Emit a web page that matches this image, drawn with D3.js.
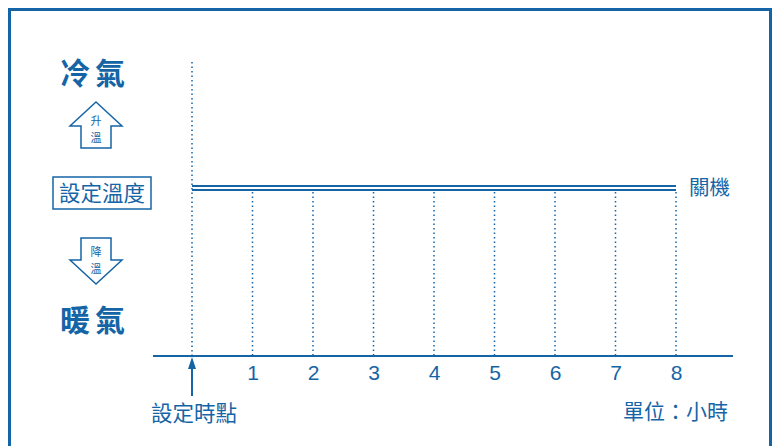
<!DOCTYPE html>
<html>
<head>
<meta charset="utf-8">
<style>
  body { margin: 0; background: #fff; }
  svg text { font-family: "Noto Sans CJK TC", "Noto Sans", sans-serif; fill: #1565a6; }
</style>
<script src="https://d3js.org/d3.v7.min.js"></script>
</head>
<body>
<svg id="chart" width="773" height="446"></svg>
<script>
// hours after the set time
var hours = [0, 1, 2, 3, 4, 5, 6, 7, 8];
var tickLabels = ["", "1", "2", "3", "4", "5", "6", "7", "8"];
// the timer keeps the set temperature, then switches off
var offLevel = [0, 0, 0, 0, 0, 0, 0, 0, 0];
var offLabel = "關機";

var blue = "#1565a6";
var svg = d3.select("#chart");

// frame
svg.append("path")
  .attr("d", "M9.5,446 V9.5 H770.5 V446")
  .attr("fill", "none").attr("stroke", blue).attr("stroke-width", 3);

var x = d3.scaleLinear().domain([0, 8]).range([192, 676]);
var y = d3.scaleLinear().domain([-1, 1]).range([356, 20]);

// axis line
svg.append("line")
  .attr("x1", 153).attr("x2", 733).attr("y1", 356).attr("y2", 356)
  .attr("stroke", blue).attr("stroke-width", 2);

var axis = d3.axisBottom(x).tickValues(hours).tickFormat((d, i) => tickLabels[i]).tickSize(0).tickPadding(9);
var ax = svg.append("g").attr("transform", "translate(0,356)").call(axis);
ax.select(".domain").remove();
ax.selectAll("text")
  .style("font-family", "Liberation Sans, Arial, sans-serif")
  .style("font-size", "21px").attr("fill", blue);

// dotted verticals
svg.append("g").selectAll("line").data(hours).join("line")
  .attr("x1", d => x(d)).attr("x2", d => x(d))
  .attr("y1", d => d === 0 ? 62 : y(offLevel[d]) + 4)
  .attr("y2", 355)
  .attr("stroke", blue).attr("stroke-width", 1.5)
  .attr("stroke-dasharray", "1.5,3");

// double line at set temperature
var line = d3.line().x((d, i) => x(hours[i])).y(d => y(d));
[-2, 2].forEach(function (off) {
  svg.append("path")
    .datum(offLevel)
    .attr("d", line)
    .attr("transform", "translate(0," + off + ")")
    .attr("fill", "none").attr("stroke", blue).attr("stroke-width", 2);
});
svg.append("text").attr("x", 689).attr("y", y(0) + 7)
  .style("font-size", "20.5px").text(offLabel);

// set time arrow
svg.append("line").attr("x1", x(0)).attr("x2", x(0)).attr("y1", 396).attr("y2", 366)
  .attr("stroke", blue).attr("stroke-width", 2);
svg.append("path")
  .attr("d", `M${x(0)},357 L${x(0) - 4},369 L${x(0) + 4},369 Z`).attr("fill", blue);
svg.append("text").attr("x", 151).attr("y", 421)
  .style("font-size", "21.5px").text("設定時點");
svg.append("text").attr("x", 728).attr("y", 419).attr("text-anchor", "end")
  .style("font-size", "21px").text("單位：小時");

// left legend
svg.append("text").attr("x", 95).attr("y", 84).attr("text-anchor", "middle")
  .style("font-size", "30px").style("font-weight", "bold").style("letter-spacing", "5px").text("冷氣");
svg.append("text").attr("x", 95).attr("y", 331).attr("text-anchor", "middle")
  .style("font-size", "30px").style("font-weight", "bold").style("letter-spacing", "5px").text("暖氣");

svg.append("path")
  .attr("d", "M96,102 L122,126 L111,126 L111,148 L81,148 L81,126 L70,126 Z")
  .attr("fill", "#fff").attr("stroke", blue).attr("stroke-width", 1.5);
svg.append("path")
  .attr("d", "M81,238 L111,238 L111,260 L122,260 L96,284 L70,260 L81,260 Z")
  .attr("fill", "#fff").attr("stroke", blue).attr("stroke-width", 1.5);
[["升", 125], ["溫", 142], ["降", 256], ["溫", 273]].forEach(function (t) {
  svg.append("text").attr("x", 96).attr("y", t[1]).attr("text-anchor", "middle")
    .style("font-size", "11px").text(t[0]);
});

svg.append("rect").attr("x", 53).attr("y", 177).attr("width", 98).attr("height", 32)
  .attr("fill", "none").attr("stroke", blue).attr("stroke-width", 1.5);
svg.append("text").attr("x", 102).attr("y", 201).attr("text-anchor", "middle")
  .style("font-size", "21.5px").text("設定溫度");
</script>
</body>
</html>
